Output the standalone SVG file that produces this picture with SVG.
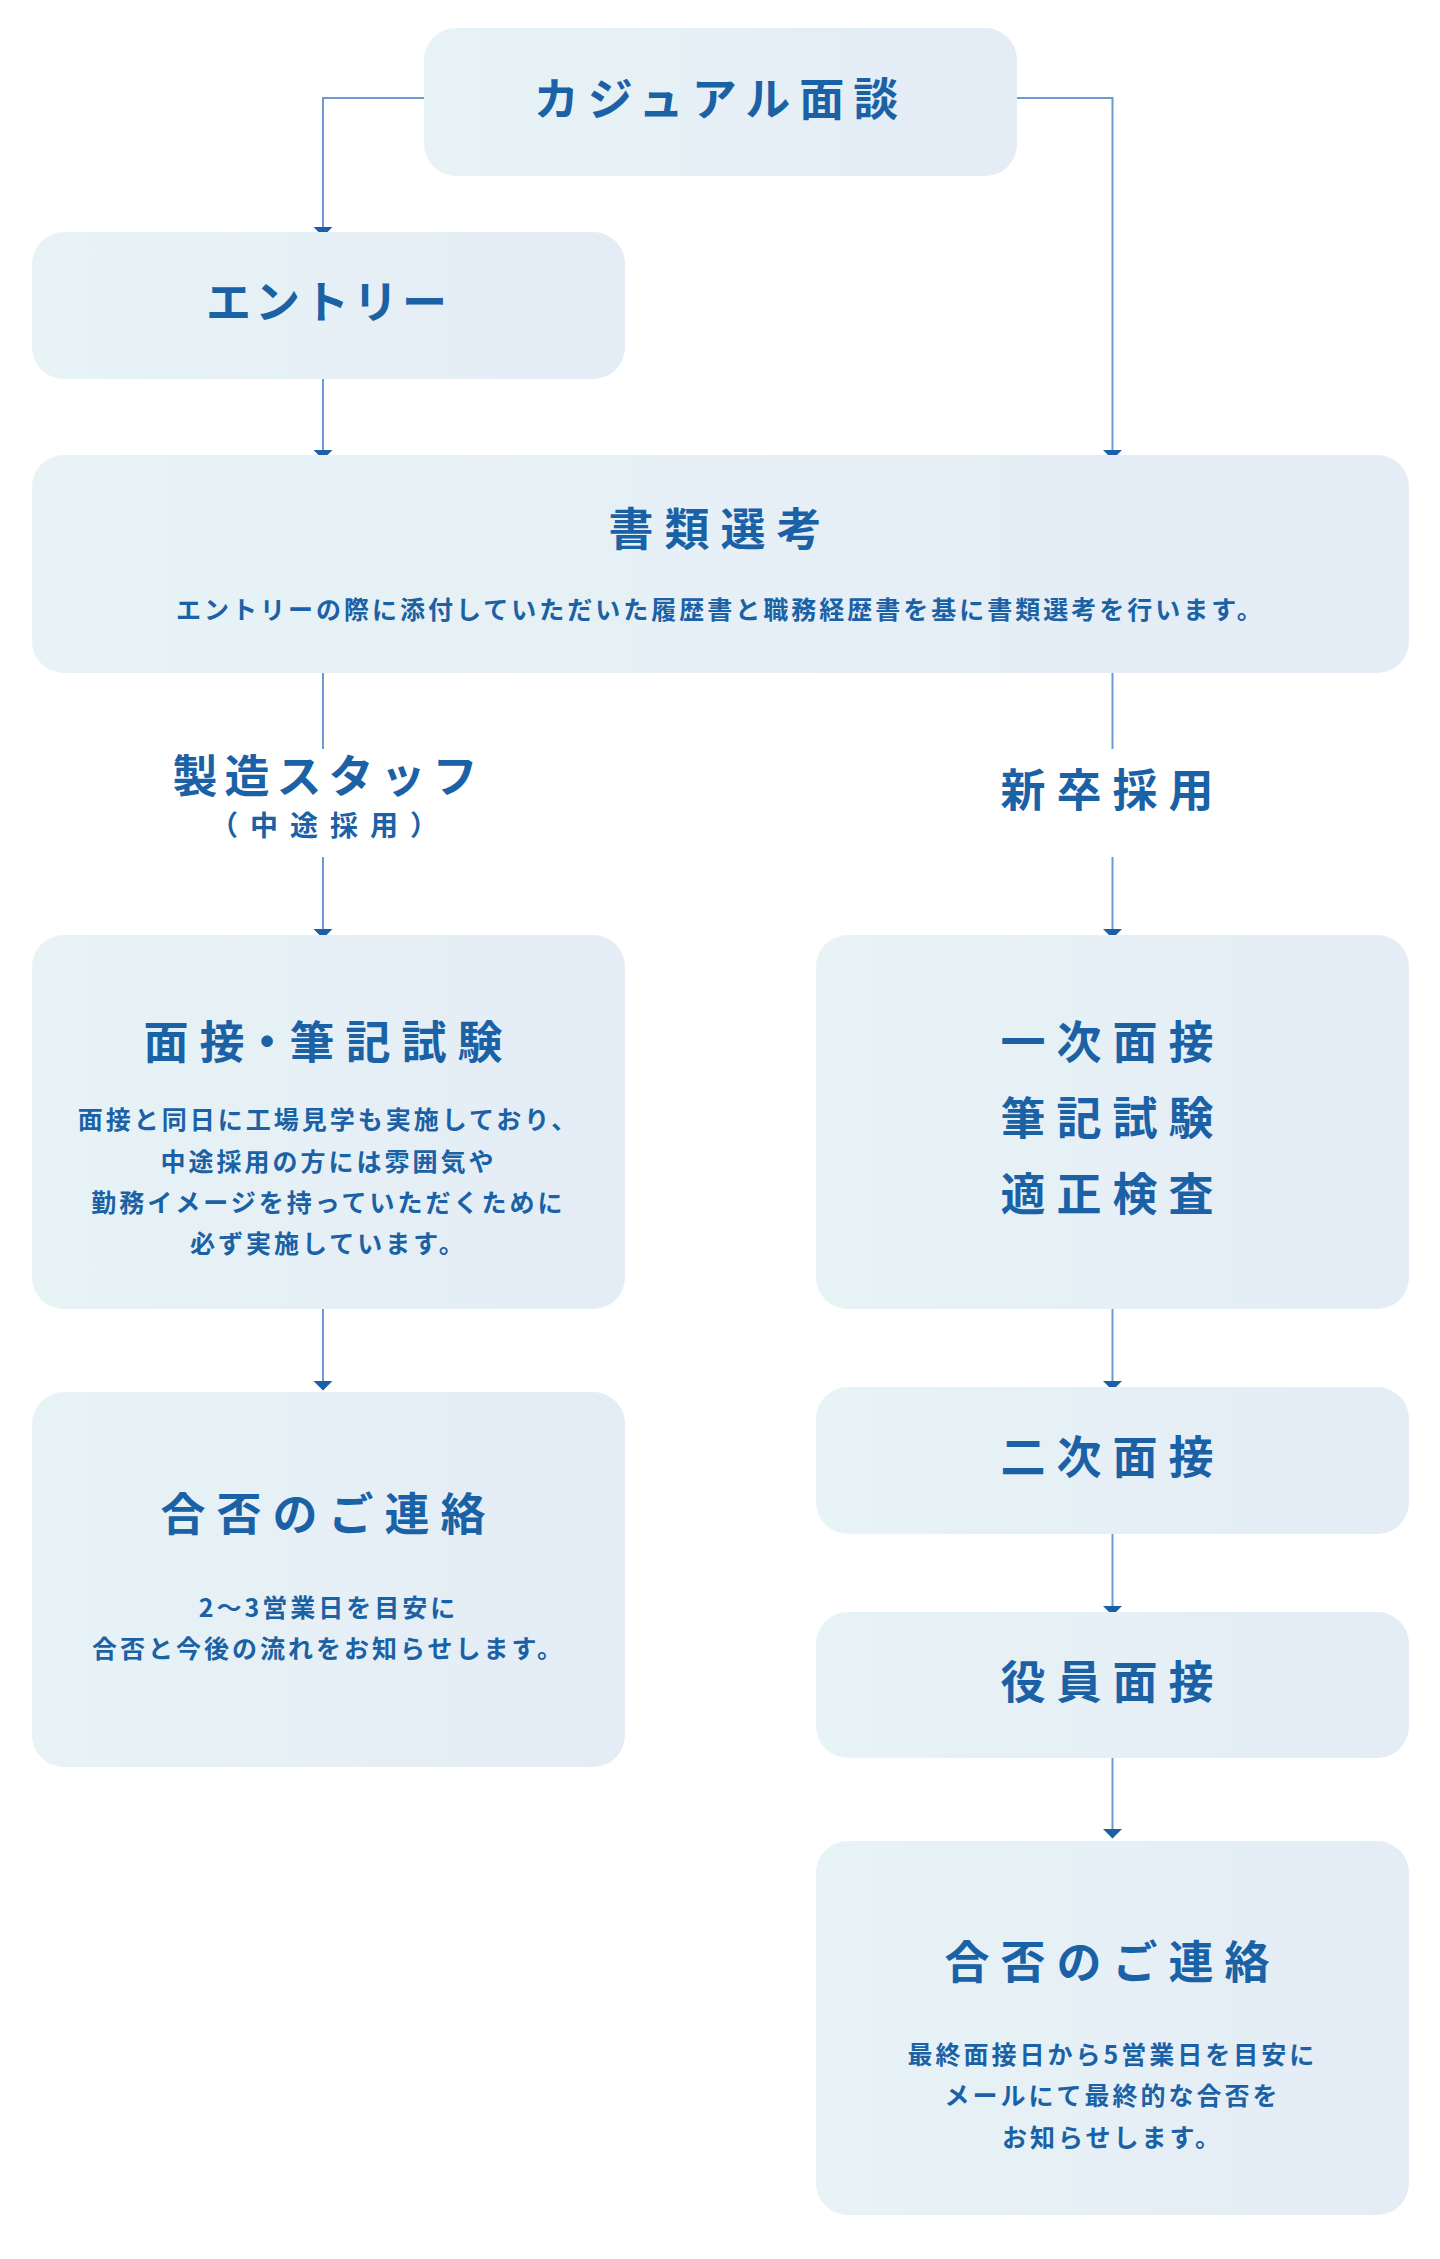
<svg xmlns="http://www.w3.org/2000/svg" width="1440" height="2259" viewBox="0 0 1440 2259">
<defs>
<linearGradient id="bg" x1="0" y1="0" x2="1" y2="0">
<stop offset="0" stop-color="#e7f3f5"/>
<stop offset="1" stop-color="#e4ecf5"/>
</linearGradient>
<marker id="arr" markerUnits="userSpaceOnUse" markerWidth="10" markerHeight="20" refX="9" refY="9.5" orient="auto">
<path d="M0,0 L9.5,9.5 L0,19 Z" fill="#1a5fa8"/>
</marker>
<style>
.box{fill:url(#bg);}
.t{font-family:"Noto Sans CJK JP","Noto Sans",sans-serif;font-weight:700;font-size:45px;letter-spacing:11px;fill:#1b61a6;text-anchor:middle;}
.b{font-family:"Noto Sans CJK JP","Noto Sans",sans-serif;font-weight:700;font-size:25px;letter-spacing:3px;fill:#1b61a6;text-anchor:middle;}
.s{font-family:"Noto Sans CJK JP","Noto Sans",sans-serif;font-weight:700;font-size:28px;letter-spacing:12px;fill:#1b61a6;text-anchor:middle;}
.c{fill:none;stroke:#6b9bd0;stroke-width:2;}
.a{marker-end:url(#arr);}
</style>
</defs>
<rect width="1440" height="2259" fill="#ffffff"/>
<g id="connectors">
<path class="c a" d="M424,98 H323 V236"/>
<path class="c a" d="M1017,98 H1112.5 V459"/>
<path class="c a" d="M323,379 V459"/>
<path class="c" d="M323,673 V749"/>
<path class="c a" d="M323,857 V938"/>
<path class="c" d="M1112.5,673 V749"/>
<path class="c a" d="M1112.5,857 V938"/>
<path class="c a" d="M323,1309 V1390"/>
<path class="c a" d="M1112.5,1309 V1390"/>
<path class="c a" d="M1112.5,1534 V1615"/>
<path class="c a" d="M1112.5,1758 V1838"/>
</g>
<g id="casual">
<rect class="box" x="424" y="28" width="593" height="148" rx="32"/>
<text class="t" x="720.5" y="116" style="letter-spacing:9px">カジュアル面談</text>
</g>
<g id="entry">
<rect class="box" x="32" y="232" width="593" height="147" rx="32"/>
<text class="t" x="328.5" y="319" style="letter-spacing:4px">エントリー</text>
</g>
<g id="document">
<rect class="box" x="32" y="455" width="1377" height="218" rx="32"/>
<text class="t" x="720.5" y="546">書類選考</text>
<text class="b" x="720.5" y="619">エントリーの際に添付していただいた履歴書と職務経歴書を基に書類選考を行います。</text>
</g>
<g id="label-staff">
<text class="t" x="328.5" y="793" style="letter-spacing:7px">製造スタッフ</text>
<text class="s" x="330" y="836">（中途採用）</text>
</g>
<g id="label-new">
<text class="t" x="1112.5" y="807">新卒採用</text>
</g>
<g id="interview-test">
<rect class="box" x="32" y="935" width="593" height="374" rx="32"/>
<text class="t" x="328.5" y="1059">面<tspan style="letter-spacing:0px">接・</tspan>筆記試験</text>
<text class="b" x="328.5" y="1129">面接と同日に工場見学も実施しており、</text>
<text class="b" x="328.5" y="1171">中途採用の方には雰囲気や</text>
<text class="b" x="328.5" y="1212">勤務イメージを持っていただくために</text>
<text class="b" x="328.5" y="1253">必ず実施しています。</text>
</g>
<g id="first-interview">
<rect class="box" x="816" y="935" width="593" height="374" rx="32"/>
<text class="t" x="1112.5" y="1059">一次面接</text>
<text class="t" x="1112.5" y="1135">筆記試験</text>
<text class="t" x="1112.5" y="1211">適正検査</text>
</g>
<g id="result-left">
<rect class="box" x="32" y="1392" width="593" height="375" rx="32"/>
<text class="t" x="328.5" y="1531">合否のご連絡</text>
<text class="b" x="328.5" y="1617">2〜3営業日を目安に</text>
<text class="b" x="328.5" y="1658">合否と今後の流れをお知らせします。</text>
</g>
<g id="second-interview">
<rect class="box" x="816" y="1387" width="593" height="147" rx="32"/>
<text class="t" x="1112.5" y="1474">二次面接</text>
</g>
<g id="executive-interview">
<rect class="box" x="816" y="1612" width="593" height="146" rx="32"/>
<text class="t" x="1112.5" y="1699">役員面接</text>
</g>
<g id="result-right">
<rect class="box" x="816" y="1841" width="593" height="374" rx="32"/>
<text class="t" x="1112.5" y="1979">合否のご連絡</text>
<text class="b" x="1112.5" y="2064">最終面接日から5営業日を目安に</text>
<text class="b" x="1112.5" y="2105">メールにて最終的な合否を</text>
<text class="b" x="1112.5" y="2147">お知らせします。</text>
</g>
</svg>
